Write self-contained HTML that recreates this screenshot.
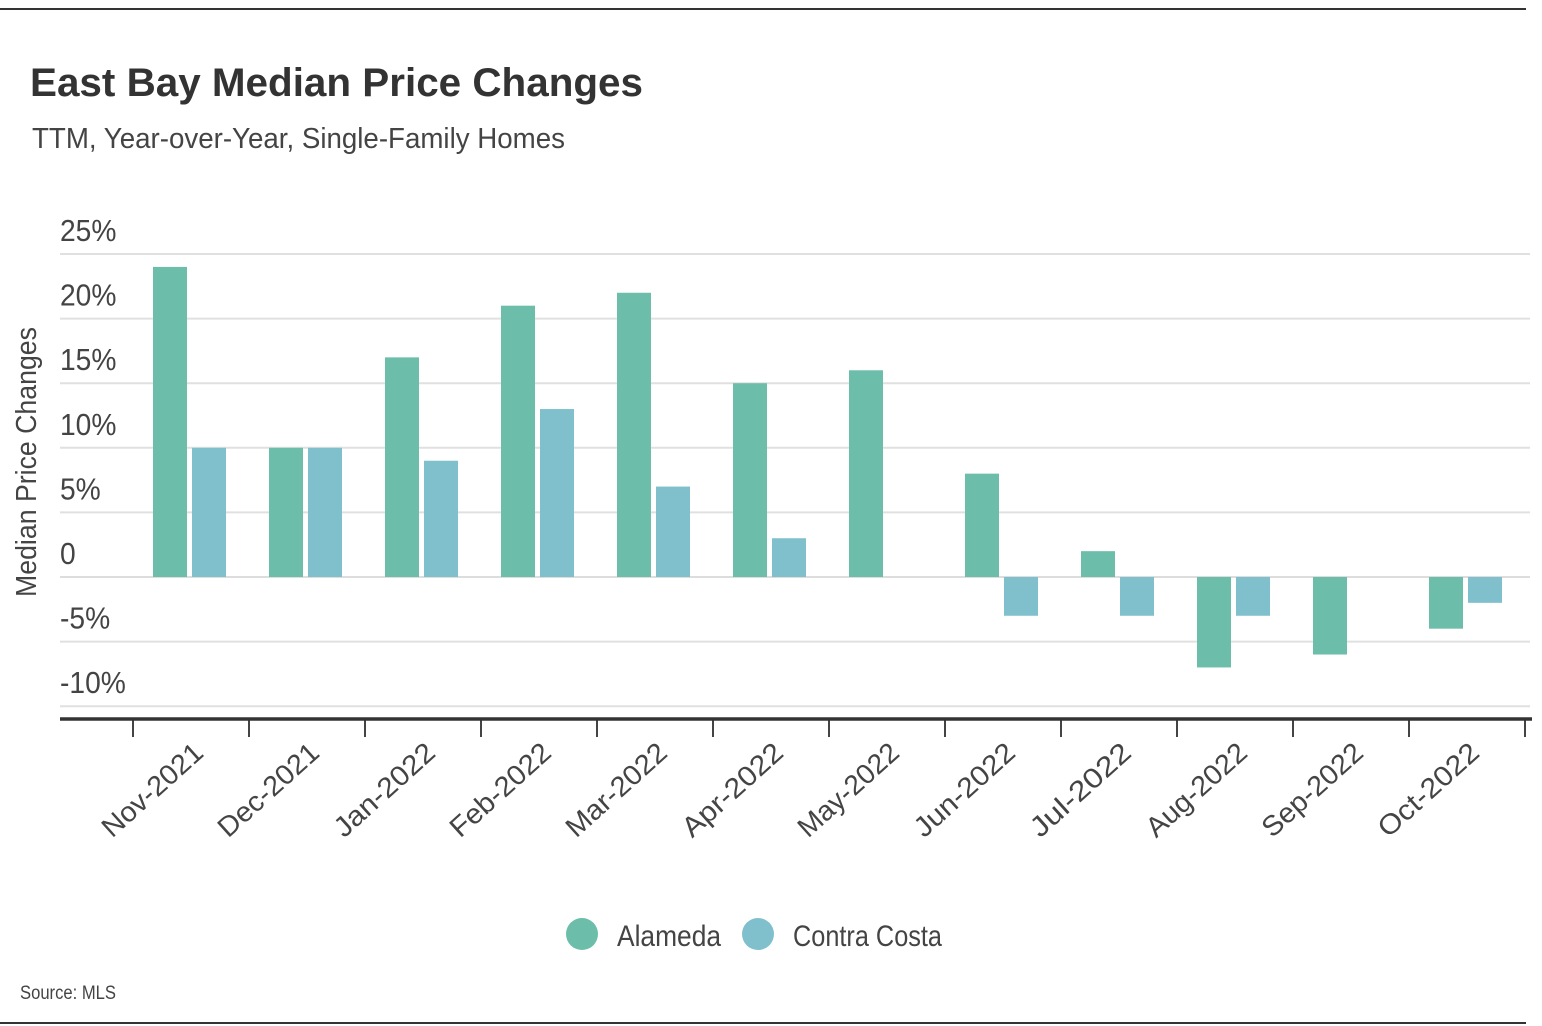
<!DOCTYPE html>
<html><head><meta charset="utf-8"><style>
html,body{margin:0;padding:0;background:#fff;}
svg{display:block;font-family:"Liberation Sans Narrow","Liberation Sans",sans-serif;}
</style></head><body>
<svg id="chart" width="1542" height="1026" viewBox="0 0 1542 1026">
<line x1="0" y1="9" x2="1526" y2="9" stroke="#333" stroke-width="2"/>
<text x="30" y="96" font-size="40" font-weight="bold" fill="#333" textLength="613" lengthAdjust="spacingAndGlyphs">East Bay Median Price Changes</text>
<text x="32" y="148" font-size="29" fill="#444" textLength="533" lengthAdjust="spacingAndGlyphs">TTM, Year-over-Year, Single-Family Homes</text>
<text transform="translate(36,462) rotate(-90)" text-anchor="middle" font-size="29" fill="#444" textLength="270" lengthAdjust="spacingAndGlyphs">Median Price Changes</text>
<g id="grid"></g>
<g id="bars"></g>
<g id="xaxis"></g>
<g>
<circle cx="582" cy="934" r="16" fill="#6dbdab"/>
<text x="617" y="946" font-size="30" fill="#444" textLength="104" lengthAdjust="spacingAndGlyphs">Alameda</text>
<circle cx="758" cy="934" r="16" fill="#7fc0cc"/>
<text x="793" y="946" font-size="30" fill="#444" textLength="149" lengthAdjust="spacingAndGlyphs">Contra Costa</text>
</g>
<text x="20" y="999" font-size="19" fill="#444" textLength="96" lengthAdjust="spacingAndGlyphs">Source:  MLS</text>
<line x1="0" y1="1023" x2="1526" y2="1023" stroke="#333" stroke-width="2"/>
</svg>
<script>
const categories=["Nov-2021","Dec-2021","Jan-2022","Feb-2022","Mar-2022","Apr-2022","May-2022","Jun-2022","Jul-2022","Aug-2022","Sep-2022","Oct-2022"];
const alameda=[24,10,17,21,22,15,16,8,2,-7,-6,-4];
const contraCosta=[10,10,9,13,7,3,0,-3,-3,-3,0,-2];
const yTicks=[25,20,15,10,5,0,-5,-10];
const yTickLabels=["25%","20%","15%","10%","5%","0","-5%","-10%"];
const NS="http://www.w3.org/2000/svg";
const y=v=>577-v*12.92;
const x0=133,step=116;
const cx=i=>x0+step*i;
function mk(tag,attrs,parent){const e=document.createElementNS(NS,tag);for(const k in attrs)e.setAttribute(k,attrs[k]);parent.appendChild(e);return e;}
const grid=document.getElementById('grid'),bars=document.getElementById('bars'),xa=document.getElementById('xaxis');
yTicks.forEach((t,i)=>{
  const l=mk('line',{x1:60,x2:1530,y1:y(t),y2:y(t),stroke:t===0?'#ddd':'#e0e0e0','stroke-width':2},grid);
  
  
  const lbl=yTickLabels[i];
  const tx=mk('text',{x:60,y:y(t)-13,'font-size':31,fill:'#444',transform:`translate(60,0) scale(0.91,1) translate(-60,0)`},grid);
  tx.textContent=lbl;
  
  
});
function bar(v,xs,col,name){
  const top=Math.min(y(v),y(0)),h=Math.abs(y(v)-y(0));
  const r=mk('rect',{x:xs,y:top,width:34,height:h,fill:col},bars);
  
  
}
categories.forEach((c,i)=>{
  bar(alameda[i],cx(i)+20,'#6dbdab','bar-alameda');
  bar(contraCosta[i],cx(i)+59,'#7fc0cc','bar-contra-costa');
  const t=mk('text',{transform:`translate(${cx(i)+72},755) rotate(-42)`,'text-anchor':'end','font-size':28,fill:'#444',textLength:125,lengthAdjust:'spacingAndGlyphs'},xa);
  t.textContent=c;
  
  
});
for(let i=0;i<=categories.length;i++){
  const t=mk('line',{x1:cx(i),x2:cx(i),y1:719,y2:737,stroke:'#444','stroke-width':2},xa);
  
  
}
const ax=mk('line',{x1:60,x2:1532,y1:719,y2:719,stroke:'#333','stroke-width':3.5},xa);


</script>
</body></html>
